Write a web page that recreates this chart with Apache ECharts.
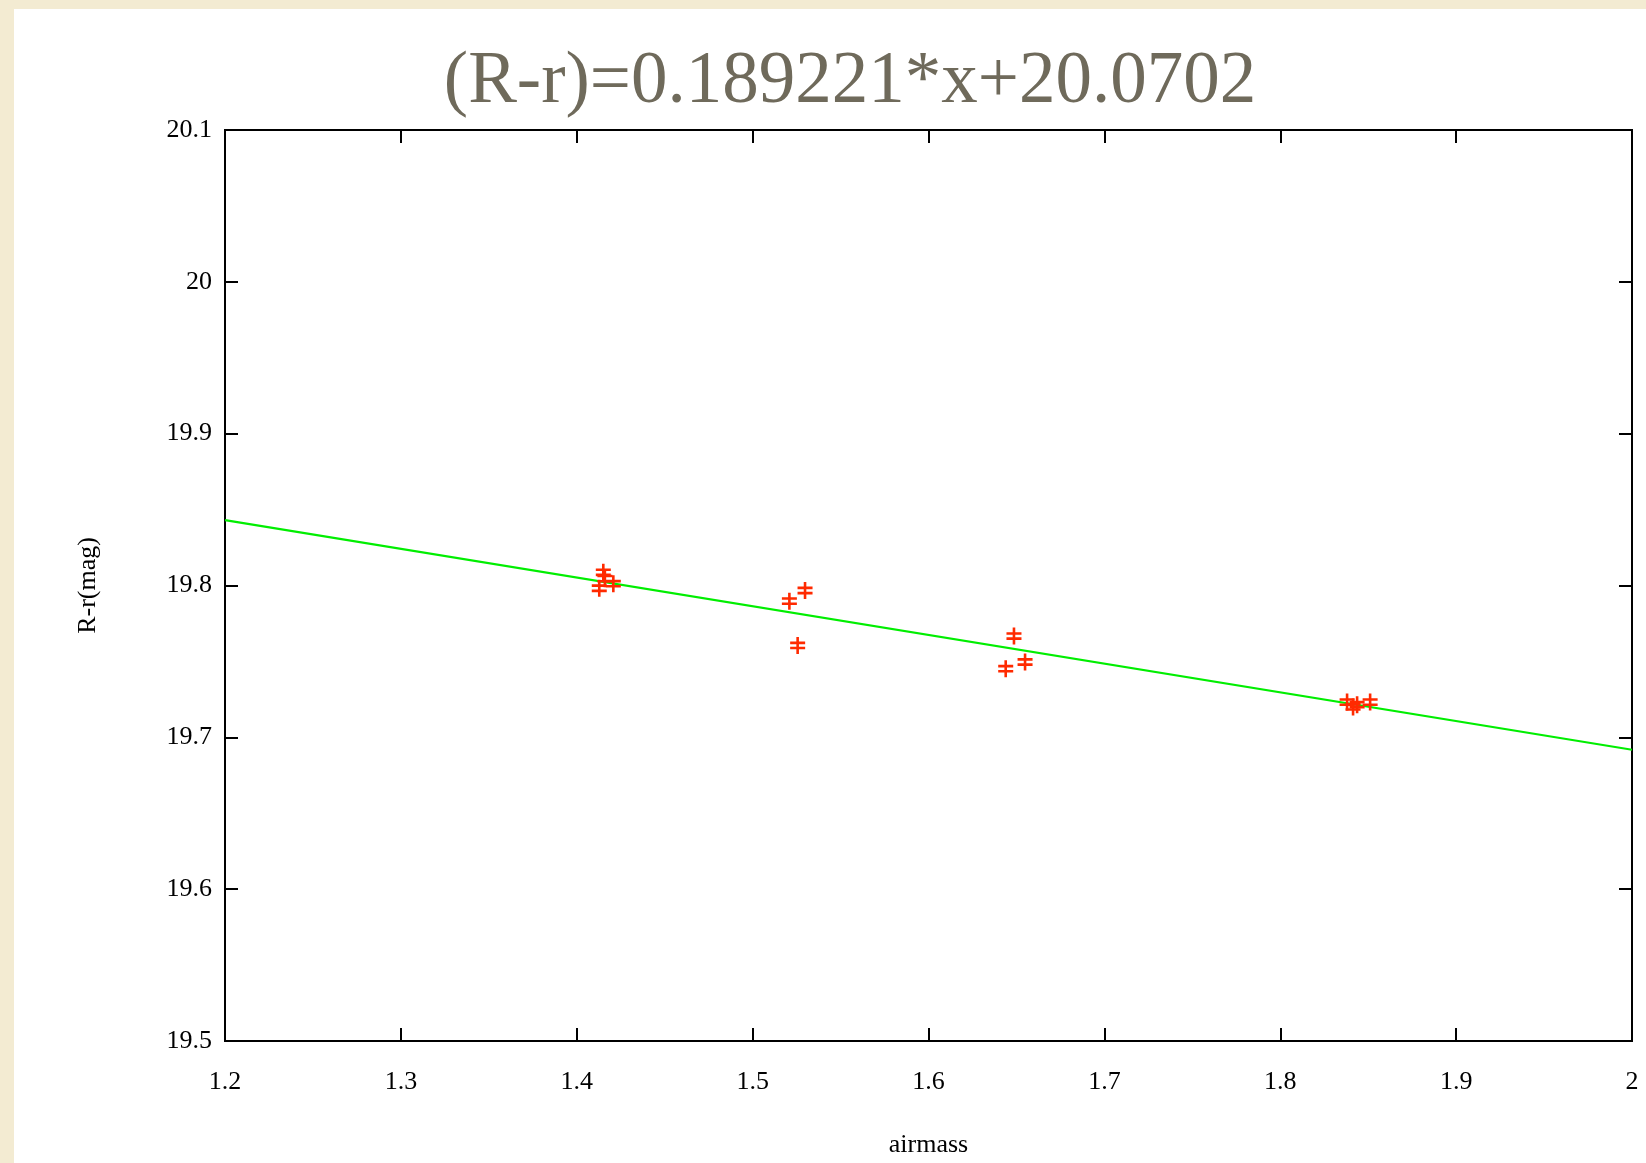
<!DOCTYPE html>
<html>
<head>
<meta charset="utf-8">
<script src="https://cdn.jsdelivr.net/npm/echarts@6/dist/echarts.min.js"></script>
<style>
html,body{margin:0;padding:0;background:#f3ebd2;}
#panel{position:absolute;left:14px;top:9px;right:0;bottom:0;background:#ffffff;}
#chart{position:absolute;left:0;top:0;width:1646px;height:1163px;}
</style>
</head>
<body>
<div id="panel"></div>
<div id="chart"></div>
<script>
// Data
const titleText = "(R-r)=0.189221*x+20.0702";
const xName = "airmass";
const yName = "R-r(mag)";
const xTickLabels = ["1.2","1.3","1.4","1.5","1.6","1.7","1.8","1.9","2"];
const yTickLabels = ["19.5","19.6","19.7","19.8","19.9","20","20.1"];
const pointX = [1.4151, 1.4128, 1.4208, 1.4160, 1.5209, 1.5298, 1.5256, 1.6486, 1.6549, 1.6439, 1.8380, 1.8437, 1.8511, 1.8414];
const pointY = [19.8087, 19.7982, 19.8012, 19.8045, 19.7897, 19.7967, 19.7605, 19.7667, 19.7496, 19.7452, 19.7232, 19.7215, 19.7232, 19.7200];
const fitX = [1.2, 2.0];
const fitY = [19.8431, 19.6918];

const xMin = 1.2, xMax = 2.0, xStep = 0.1;
const yMin = 19.5, yMax = 20.1, yStep = 0.1;

const serif = '"Liberation Serif", "DejaVu Serif", serif';
const chart = echarts.init(document.getElementById('chart'), null, {renderer: 'canvas'});

const xFmt = v => xTickLabels[Math.round((v - xMin) / xStep)] || '';
const yFmt = v => yTickLabels[Math.round((v - yMin) / yStep)] || '';

const markerPath = 'path://M6.2,0 h2.6 v17 h-2.6 z M0,4.6 h15 v2.6 h-15 z M0,9.8 h15 v2.6 h-15 z';

const option = {
  animation: false,
  backgroundColor: 'transparent',
  title: {
    text: titleText,
    left: 845,
    top: 41,
    textAlign: 'center',
    textStyle: {fontFamily: serif, fontSize: 73, fontWeight: 'normal', color: '#6f6a5b'}
  },
  grid: {left: 225, top: 130, right: 14, bottom: 120, show: true, borderColor: '#000', borderWidth: 2, backgroundColor: '#fff'},
  xAxis: [{
    type: 'value', min: xMin, max: xMax, interval: xStep,
    name: xName, nameLocation: 'middle', nameGap: 91,
    nameTextStyle: {fontFamily: serif, fontSize: 26, color: '#000'},
    axisLine: {show: true, lineStyle: {color: '#000', width: 2}},
    axisTick: {show: true, inside: true, length: 13, lineStyle: {color: '#000', width: 2}},
    axisLabel: {formatter: xFmt, fontFamily: serif, fontSize: 26, color: '#000', margin: 28},
    splitLine: {show: false}
  }, {
    type: 'value', min: xMin, max: xMax, interval: xStep, position: 'top',
    axisLine: {show: true, lineStyle: {color: '#000', width: 2}},
    axisTick: {show: true, inside: true, length: 13, lineStyle: {color: '#000', width: 2}},
    axisLabel: {show: false}, splitLine: {show: false}
  }],
  yAxis: [{
    type: 'value', min: yMin, max: yMax, interval: yStep,
    name: yName, nameLocation: 'middle', nameGap: 124, nameRotate: 90,
    nameTextStyle: {fontFamily: serif, fontSize: 26, color: '#000'},
    axisLine: {show: true, lineStyle: {color: '#000', width: 2}},
    axisTick: {show: true, inside: true, length: 13, lineStyle: {color: '#000', width: 2}},
    axisLabel: {formatter: yFmt, fontFamily: serif, fontSize: 26, color: '#000', margin: 13},
    splitLine: {show: false}
  }, {
    type: 'value', min: yMin, max: yMax, interval: yStep, position: 'right',
    axisLine: {show: true, lineStyle: {color: '#000', width: 2}},
    axisTick: {show: true, inside: true, length: 13, lineStyle: {color: '#000', width: 2}},
    axisLabel: {show: false}, splitLine: {show: false}
  }],
  series: [{
    type: 'line',
    data: fitX.map((x, i) => [x, fitY[i]]),
    showSymbol: false, symbol: 'none',
    lineStyle: {color: '#00ee00', width: 2.2},
    z: 2
  }, {
    type: 'scatter',
    data: pointX.map((x, i) => [x, pointY[i]]),
    symbol: markerPath, symbolSize: [15, 17],
    itemStyle: {color: '#ff2a00', opacity: 1},
    z: 3
  }]
};
chart.setOption(option);
</script>
</body>
</html>
